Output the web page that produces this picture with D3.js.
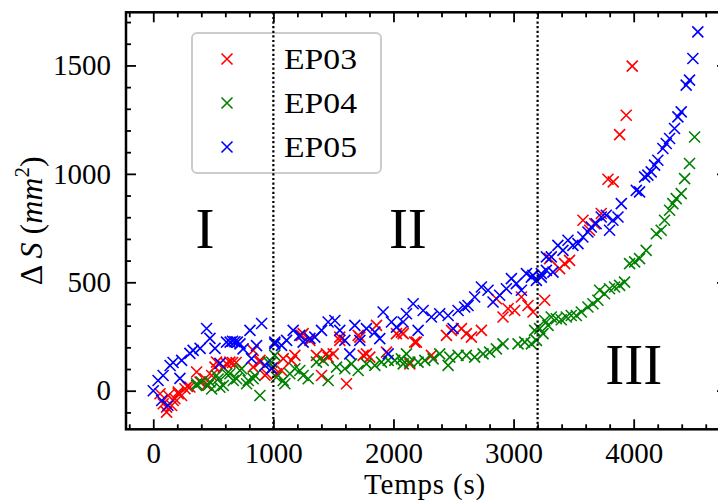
<!DOCTYPE html>
<html>
<head>
<meta charset="utf-8">
<script src="https://cdn.jsdelivr.net/npm/d3@7"></script>
<style>
  html, body { margin: 0; padding: 0; background: #fff; }
  svg { display: block; }
  text { font-family: "Liberation Serif", "DejaVu Serif", serif; fill: #000; }
</style>
</head>
<body>
<svg id="chart" width="718" height="502"></svg>
<script>
// ---------- data (time s, ΔS mm²) ----------
const seriesNames = ["EP03", "EP04", "EP05"];
const seriesColors = ["#ff0000", "#008000", "#0000ff"];

const ep03 = [[56,-14],[83,-60],[111,-99],[111,-76],[125,-22],[153,-68],[166,-45],[180,-37],[208,-14],[208,-6],[236,-22],[264,9],[285,20],[305,17],[361,86],[389,40],[430,55],[444,25],[486,70],[514,109],[527,132],[583,109],[610,125],[638,132],[660,130],[690,130],[832,186],[832,109],[888,132],[888,140],[930,71],[944,78],[1000,109],[1026,78],[1068,93],[1082,148],[1151,140],[1179,163],[1234,255],[1248,263],[1304,232],[1359,163],[1401,70],[1442,170],[1456,155],[1498,170],[1553,232],[1553,247],[1609,32],[1706,255],[1720,247],[1748,163],[1775,170],[1803,155],[1859,301],[1942,178],[2025,263],[2066,270],[2081,263],[2136,124],[2177,224],[2191,224],[2316,163],[2441,255],[2483,278],[2566,286],[2607,263],[2649,247],[2732,278],[2857,424],[2912,340],[2954,378],[3009,370],[3065,432],[3120,393],[3162,363],[3259,417],[3300,609],[3383,563],[3425,586],[3466,601],[3578,786],[3633,740],[3675,770],[3730,817],[3786,975],[3830,963],[3883,1181],[3938,1270],[3988,1497]];

const ep04 = [[361,24],[361,32],[400,40],[458,25],[472,40],[486,8],[527,70],[540,54],[555,16],[583,24],[610,78],[638,78],[666,47],[694,55],[722,93],[736,101],[777,32],[791,47],[832,55],[846,70],[888,-22],[957,132],[985,132],[1012,163],[1026,62],[1082,47],[1096,32],[1137,78],[1179,101],[1220,93],[1248,70],[1290,55],[1359,132],[1415,140],[1456,47],[1526,109],[1595,101],[1650,124],[1706,93],[1775,124],[1845,117],[1900,132],[1956,140],[2011,140],[2066,147],[2081,124],[2108,170],[2136,132],[2205,132],[2261,140],[2330,147],[2385,170],[2455,117],[2469,155],[2538,163],[2607,163],[2676,155],[2746,170],[2801,178],[2857,193],[2912,216],[3037,216],[3093,224],[3148,216],[3175,278],[3190,232],[3217,286],[3245,263],[3259,324],[3287,301],[3314,340],[3356,332],[3397,327],[3439,340],[3480,347],[3522,347],[3564,363],[3619,386],[3661,401],[3702,417],[3716,463],[3757,447],[3799,470],[3841,478],[3883,486],[3924,501],[3966,586],[4008,594],[4049,609],[4104,647],[4188,724],[4229,740],[4257,786],[4299,832],[4326,863],[4354,886],[4396,909],[4424,978],[4465,1048],[4507,1170]];

const ep05 = [[0,0],[40,47],[70,-45],[82,70],[122,-67],[140,116],[165,130],[222,57],[236,140],[305,172],[332,186],[390,195],[444,287],[472,241],[514,195],[555,126],[610,224],[640,224],[660,228],[680,226],[700,224],[722,216],[748,193],[805,278],[818,148],[860,208],[902,310],[930,117],[985,103],[1012,216],[1012,224],[1068,209],[1110,232],[1165,278],[1220,255],[1248,224],[1304,241],[1345,247],[1401,278],[1456,317],[1512,324],[1553,278],[1595,232],[1636,170],[1678,301],[1720,232],[1775,286],[1845,270],[1886,240],[1914,363],[1956,170],[1983,317],[2025,293],[2080,317],[2108,355],[2164,401],[2205,278],[2247,370],[2316,340],[2385,355],[2455,347],[2496,286],[2538,370],[2593,386],[2621,393],[2676,432],[2732,478],[2787,463],[2829,409],[2884,440],[2940,470],[2982,517],[3023,494],[3065,463],[3107,540],[3148,524],[3161,532],[3190,509],[3231,540],[3231,524],[3273,555],[3273,617],[3314,617],[3328,547],[3369,670],[3411,647],[3453,694],[3494,670],[3536,678],[3577,709],[3619,732],[3647,755],[3688,770],[3730,801],[3772,809],[3799,740],[3827,786],[3869,801],[3897,863],[4022,924],[4049,917],[4091,986],[4118,994],[4146,1009],[4174,1040],[4201,1063],[4243,1117],[4271,1140],[4299,1163],[4340,1209],[4368,1263],[4396,1286],[4437,1409],[4465,1432],[4493,1532],[4534,1655]];

const xMajorTicks = [0, 1000, 2000, 3000, 4000];
const yMajorTicks = [0, 500, 1000, 1500];
const phaseBounds = [1000, 3200];
const phaseLabels = ["I", "II", "III"];
const phaseLabelPos = [[430, 660], [2120, 660], [4000, 30]];
const xLabel = "Temps (s)";

// ---------- layout ----------
const svg = d3.select("#chart");
const L = 126, R = 727, T = 12.3, B = 429.3;
const x = d3.scaleLinear().domain([-227, 4777]).range([L, R]);
const y = d3.scaleLinear().domain([-178, 1745]).range([B, T]);

const xMinor = d3.range(-200, 4800, 200).filter(v => v % 1000 !== 0);
const yMinor = d3.range(-100, 1800, 100).filter(v => v % 500 !== 0);

// points
const allSeries = [ep03, ep04, ep05];
const markerR = 5.5;
const cross = (cx, cy) => `M${cx - markerR},${cy - markerR}L${cx + markerR},${cy + markerR}M${cx - markerR},${cy + markerR}L${cx + markerR},${cy - markerR}`;
const plot = svg.append("g");
allSeries.forEach((data, i) => {
  plot.append("g")
    .attr("stroke", seriesColors[i])
    .attr("stroke-width", 1.6)
    .attr("fill", "none")
    .selectAll("path").data(data).join("path")
    .attr("d", d => cross(x(d[0]), y(d[1])));
});

// phase labels
svg.append("g").selectAll("text").data(phaseLabels).join("text")
  .attr("x", (d, i) => x(phaseLabelPos[i][0]))
  .attr("y", (d, i) => y(phaseLabelPos[i][1]))
  .attr("text-anchor", "middle")
  .attr("font-size", 57)
  .text(d => d);

// legend
const lg = svg.append("g");
lg.append("rect")
  .attr("x", 192).attr("y", 33).attr("width", 189).attr("height", 140)
  .attr("rx", 5).attr("ry", 5)
  .attr("fill", "#fff").attr("fill-opacity", 0.8)
  .attr("stroke", "#cccccc").attr("stroke-width", 2);

// separators
svg.append("g").selectAll("line").data(phaseBounds).join("line")
  .attr("x1", d => x(d)).attr("x2", d => x(d))
  .attr("y1", T).attr("y2", B)
  .attr("stroke", "#000").attr("stroke-width", 2.2)
  .attr("stroke-dasharray", "2.2,2.4");

seriesNames.forEach((name, i) => {
  const cy = 59 + i * 44, cx = 227;
  lg.append("path")
    .attr("d", cross(cx, cy))
    .attr("stroke", seriesColors[i]).attr("stroke-width", 1.6).attr("fill", "none");
  lg.append("text")
    .attr("x", 284).attr("y", cy + 10)
    .attr("font-size", 29)
    .attr("textLength", 73).attr("lengthAdjust", "spacingAndGlyphs")
    .text(name);
});

// axes
function styleAxis(g) {
  g.select(".domain").remove();
  g.selectAll("line").attr("stroke", "#000").attr("stroke-width", 1.8);
  g.selectAll("text").attr("font-family", "'Liberation Serif', serif").attr("font-size", 29).attr("fill", "#000");
}
const fmt = d3.format("d");
svg.append("g").attr("transform", `translate(0,${B})`)
  .call(d3.axisBottom(x).tickValues(xMajorTicks).tickSize(-10).tickPadding(13).tickFormat(fmt))
  .call(styleAxis);
svg.append("g").attr("transform", `translate(0,${B})`)
  .call(d3.axisBottom(x).tickValues(xMinor).tickSize(-5).tickFormat(""))
  .call(styleAxis);
svg.append("g").attr("transform", `translate(0,${T})`)
  .call(d3.axisTop(x).tickValues(xMajorTicks).tickSize(-10).tickFormat(""))
  .call(styleAxis);
svg.append("g").attr("transform", `translate(0,${T})`)
  .call(d3.axisTop(x).tickValues(xMinor).tickSize(-5).tickFormat(""))
  .call(styleAxis);
svg.append("g").attr("transform", `translate(${L},0)`)
  .call(d3.axisLeft(y).tickValues(yMajorTicks).tickSize(-10).tickPadding(15).tickFormat(fmt))
  .call(styleAxis);
svg.append("g").attr("transform", `translate(${L},0)`)
  .call(d3.axisLeft(y).tickValues(yMinor).tickSize(-5).tickFormat(""))
  .call(styleAxis);
svg.append("g").attr("transform", `translate(${R},0)`)
  .call(d3.axisRight(y).tickValues(yMajorTicks).tickSize(-10).tickFormat(""))
  .call(styleAxis);
svg.append("g").attr("transform", `translate(${R},0)`)
  .call(d3.axisRight(y).tickValues(yMinor).tickSize(-5).tickFormat(""))
  .call(styleAxis);

// frame
svg.append("rect")
  .attr("x", L).attr("y", T).attr("width", R - L).attr("height", B - T)
  .attr("fill", "none").attr("stroke", "#000").attr("stroke-width", 2.5);

// axis labels
svg.append("text")
  .attr("x", 425).attr("y", 494)
  .attr("text-anchor", "middle").attr("font-size", 29)
  .attr("letter-spacing", 0.8)
  .text(xLabel);

const yl = svg.append("text")
  .attr("transform", `translate(42,${(T + B) / 2}) rotate(-90)`)
  .attr("text-anchor", "middle").attr("font-size", 32);
yl.append("tspan").text("\u0394 ");
yl.append("tspan").attr("font-style", "italic").text("S");
yl.append("tspan").text(" (");
yl.append("tspan").attr("font-style", "italic").text("mm");
yl.append("tspan").attr("font-size", 21).attr("dy", -13).text("2");
yl.append("tspan").attr("dy", 13).text(")");
</script>
</body>
</html>
